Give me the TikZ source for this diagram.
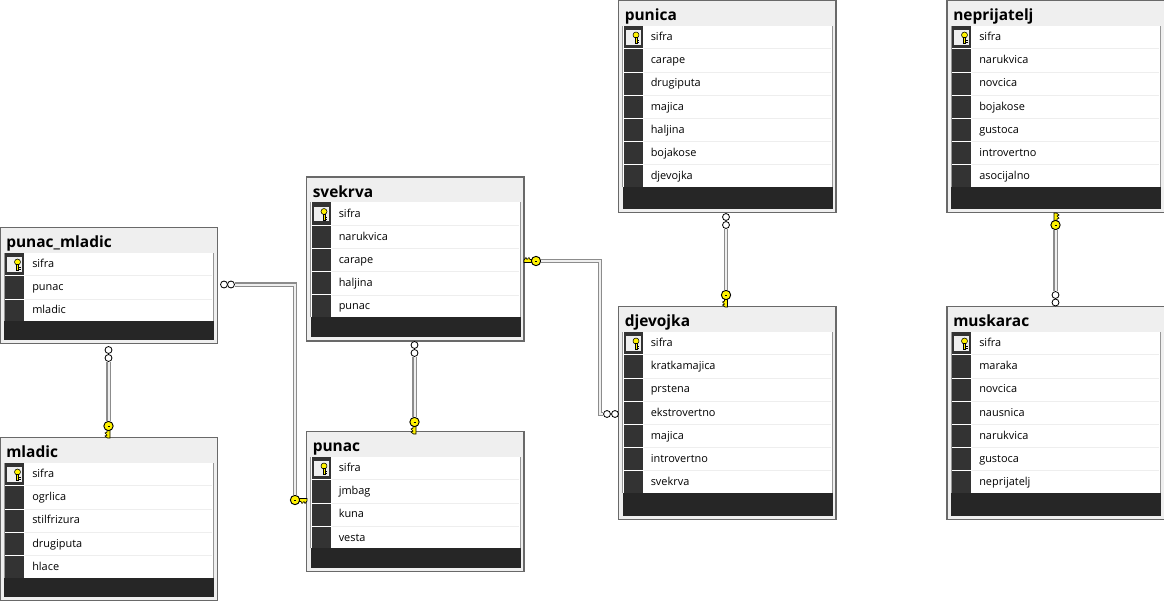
\documentclass[tikz,border=0pt]{standalone}
\usepackage{fontspec}
\setmainfont{Open Sans}
\definecolor{headbg}{HTML}{EFEFEF}
\definecolor{framegray}{HTML}{696969}
\definecolor{selgray}{HTML}{333333}
\definecolor{bandgray}{HTML}{262626}
\definecolor{rowline}{HTML}{EEEEEE}
\definecolor{keyyellow}{HTML}{FFF200}
\definecolor{linegray}{HTML}{8C8C8C}
\tikzset{
	TableBox/.style = {draw=framegray, fill=headbg, line width=1pt, inner sep=0pt, outer sep=0pt, anchor=north west},
	TableTitle/.style = {anchor=base west, inner sep=0pt, font=\fontsize{11.6}{12}\selectfont\bfseries},
	RowText/.style = {anchor=base west, inner sep=0pt, font=\fontsize{8.2}{10}\selectfont},
	RingMark/.style = {circle, draw=black, fill=white, line width=0.6pt, inner sep=0pt, minimum size=5.2pt},
	KeyHead/.style = {circle, draw=black, fill=keyyellow, line width=0.7pt, inner sep=0pt, minimum size=7pt},
	RelLine/.style = {draw=linegray, line width=1pt, double=headbg, double distance=1.5pt},
}
% name, x, y, height, title, rows, number of rows
\newcommand{\DbTable}[7]{
	\node[TableBox, minimum width=217.5*0.75pt, minimum height=#4*0.75pt] (#1) at (#2,#3) {};
	\fill[white] (#2+4,#3+25) rectangle (#2+213,#3+#4-4);
	\fill[selgray] (#2+5,#3+25) rectangle (#2+24,#3+24+#7*23.2);
	\node[TableTitle] (#1-title) at (#2+6,#3+20) {#5};
	\foreach \rowname [count=\rownum from 0] in {#6} {
		\node[RowText] (#1-row\rownum) at (#2+32,#3+40+\rownum*23.2) {\rowname};
		\ifnum\rownum>0
			\draw[rowline] (#2+25,#3+25+\rownum*23.2) -- (#2+212,#3+25+\rownum*23.2);
			\draw[white, line width=0.6pt] (#2+5,#3+25+\rownum*23.2) -- (#2+24,#3+25+\rownum*23.2);
		\fi
	}
	\fill[bandgray] (#2+4,#3+24+#7*23.2) rectangle (#2+214,#3+#4-4);
	\draw[framegray!70, line width=0.5pt] (#2+4,#3+24+#7*23.2) -- (#2+4,#3+25);
	\draw[framegray!70, line width=0.5pt] (#2+213.5,#3+24+#7*23.2) -- (#2+213.5,#3+25);
	% key cell of the first row
	\fill[headbg] (#2+7,#3+29.5) rectangle (#2+22,#3+44);
	\fill[keyyellow, draw=black, line width=0.4pt] (#2+17.5,#3+34.5) circle (3*0.75pt);
	\fill[keyyellow, draw=black, line width=0.4pt] (#2+16.5,#3+37) rectangle (#2+18.5,#3+43);
	\draw[black, line width=0.5pt] (#2+18.5,#3+40) -- (#2+20.5,#3+40) (#2+18.5,#3+42) -- (#2+20.5,#3+42);
}
% name, x, y, angle: the head sits at x,y and the bit points along the angle
\newcommand{\KeyMark}[4]{
	\begin{scope}[shift={(#2,#3)}, rotate=#4]
		\fill[keyyellow, draw=black, line width=0.5pt] (3,-1.5) -- (12,-1.5) -- (12,1) -- (10,3.5) -- (9,1.5) -- (7,3.5) -- (6,1.5) -- (3,1.5) -- cycle;
	\end{scope}
	\node[KeyHead] (#1) at (#2,#3) {};
	\draw[black, line width=0.6pt] (#2-1,#3) -- (#2+1,#3);
}
\begin{document}
\begin{tikzpicture}[x=0.75pt, y=-0.75pt]
	\useasboundingbox (0,0) rectangle (1164,601);
	\DbTable{punacmladic}{0}{227.5}{116}{punac\_mladic}{sifra,punac,mladic}{3}
	\DbTable{mladic}{0}{437.5}{163}{mladic}{sifra,ogrlica,stilfrizura,drugiputa,hlace}{5}
	\DbTable{svekrva}{306.5}{177}{164}{svekrva}{sifra,narukvica,carape,haljina,punac}{5}
	\DbTable{punac}{306.5}{431.5}{140}{punac}{sifra,jmbag,kuna,vesta}{4}
	\DbTable{punica}{618.5}{0.5}{212}{punica}{sifra,carape,drugiputa,majica,haljina,bojakose,djevojka}{7}
	\DbTable{djevojka}{618.5}{306.5}{213}{djevojka}{sifra,kratkamajica,prstena,ekstrovertno,majica,introvertno,svekrva}{7}
	\DbTable{neprijatelj}{947}{0.5}{212}{neprijatelj}{sifra,narukvica,novcica,bojakose,gustoca,introvertno,asocijalno}{7}
	\DbTable{muskarac}{947}{306.5}{213}{muskarac}{sifra,maraka,novcica,nausnica,narukvica,gustoca,neprijatelj}{7}
	% relationship ends
	\node[RingMark] (ringA) at (108.5,358) {};
	\node[RingMark] at (108.5,350) {};
	\KeyMark{keyA}{108.5}{426}{-90}
	\node[RingMark] (ringB) at (231,284.5) {};
	\node[RingMark] at (224,284.5) {};
	\KeyMark{keyB}{295}{500}{0}
	\node[RingMark] (ringC) at (414.5,353) {};
	\node[RingMark] at (414.5,345) {};
	\KeyMark{keyC}{414.5}{422}{-90}
	\node[RingMark] (ringD) at (607,414) {};
	\node[RingMark] at (615,414) {};
	\KeyMark{keyD}{536}{261}{180}
	\node[RingMark] (ringE) at (726,225) {};
	\node[RingMark] at (726,217) {};
	\KeyMark{keyE}{726}{295}{-90}
	\node[RingMark] (ringF) at (1055.5,295) {};
	\node[RingMark] at (1055.5,302.5) {};
	\KeyMark{keyF}{1055.5}{225}{90}
	\coordinate (jogD) at (600,337);
	\draw[RelLine] (ringA) -- (keyA);
	\draw[RelLine] (ringB) -| (keyB);
	\draw[RelLine] (ringC) -- (keyC);
	\draw[RelLine] (keyD) -| (jogD) |- (ringD);
	\draw[RelLine] (ringE) -- (keyE);
	\draw[RelLine] (keyF) -- (ringF);
\end{tikzpicture}
\end{document}
